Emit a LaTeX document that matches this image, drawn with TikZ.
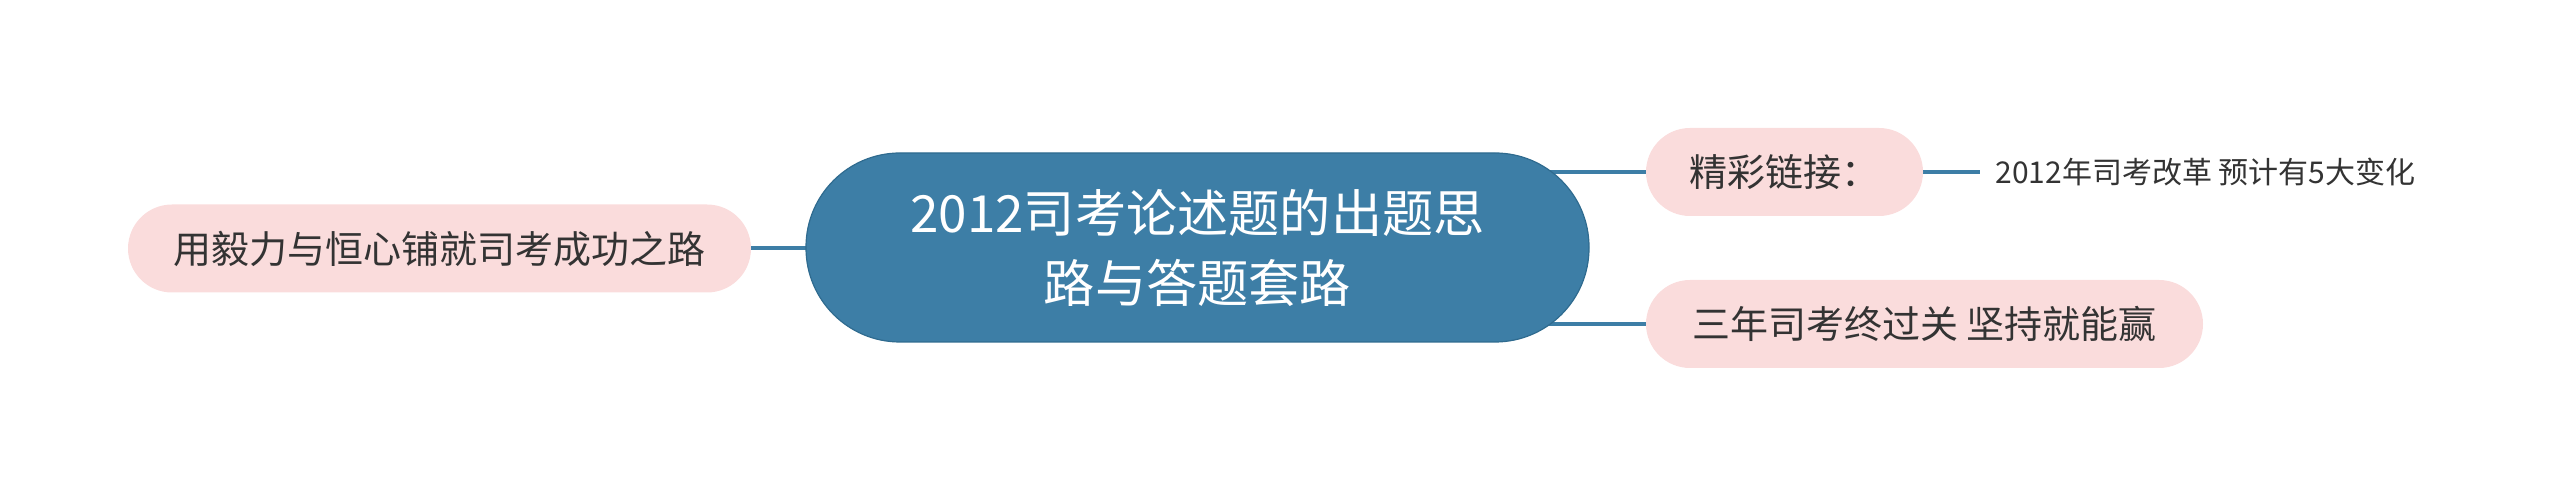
\documentclass[tikz,border=0pt]{standalone}
\usepackage{fontspec}
\setmainfont{Noto Sans CJK SC}
\usepackage{xcolor}
\usetikzlibrary{backgrounds}
\definecolor{topicblue}{HTML}{3D7EA6}
\definecolor{topicedge}{HTML}{2F6B8F}
\definecolor{subpink}{HTML}{FADCDC}
\definecolor{subtext}{HTML}{333333}
\tikzset{
	topic/.style={draw=topicedge, line width=0.6pt, fill=topicblue, text=white, rounded corners=47pt, minimum width=391.5pt, minimum height=94.5pt, align=center, font=\fontsize{25.6pt}{35pt}\selectfont},
	sub/.style={fill=subpink, text=subtext, rounded corners=22pt, minimum height=44pt, font=\fontsize{19pt}{23pt}\selectfont},
	leaf/.style={anchor=west, inner sep=0pt, text=subtext, font=\fontsize{15pt}{18pt}\selectfont},
	link/.style={draw=topicblue, line width=2pt},
}

\begin{document}
\begin{tikzpicture}
	\useasboundingbox (0pt, 0pt) rectangle (1280pt, 248.5pt);
	\node[topic] (central) at (598.75pt, 124.75pt) {2012司考论述题的出题思\\路与答题套路};
	\node[sub, minimum width=311.5pt] (grit) at (219.75pt, 124.25pt) {用毅力与恒心铺就司考成功之路};
	\node[sub, minimum width=138.5pt] (links) at (892.25pt, 162.5pt) {精彩链接：};
	\node[sub, minimum width=278.5pt] (pass) at (962.25pt, 86.5pt) {三年司考终过关 坚持就能赢};
	\node[leaf] (reform) at (997.5pt, 162.5pt) {2012年司考改革 预计有5大变化};
	\coordinate (reformend) at (990pt, 162.5pt);
	\begin{pgfonlayer}{background}
		\draw[link] (grit.east) -- (central.center |- grit.east);
		\draw[link] (links.west) -- (central.center |- links.west);
		\draw[link] (pass.west) -- (central.center |- pass.west);
		\draw[link] (links.east) -- (reformend);
	\end{pgfonlayer}
\end{tikzpicture}
\end{document}
